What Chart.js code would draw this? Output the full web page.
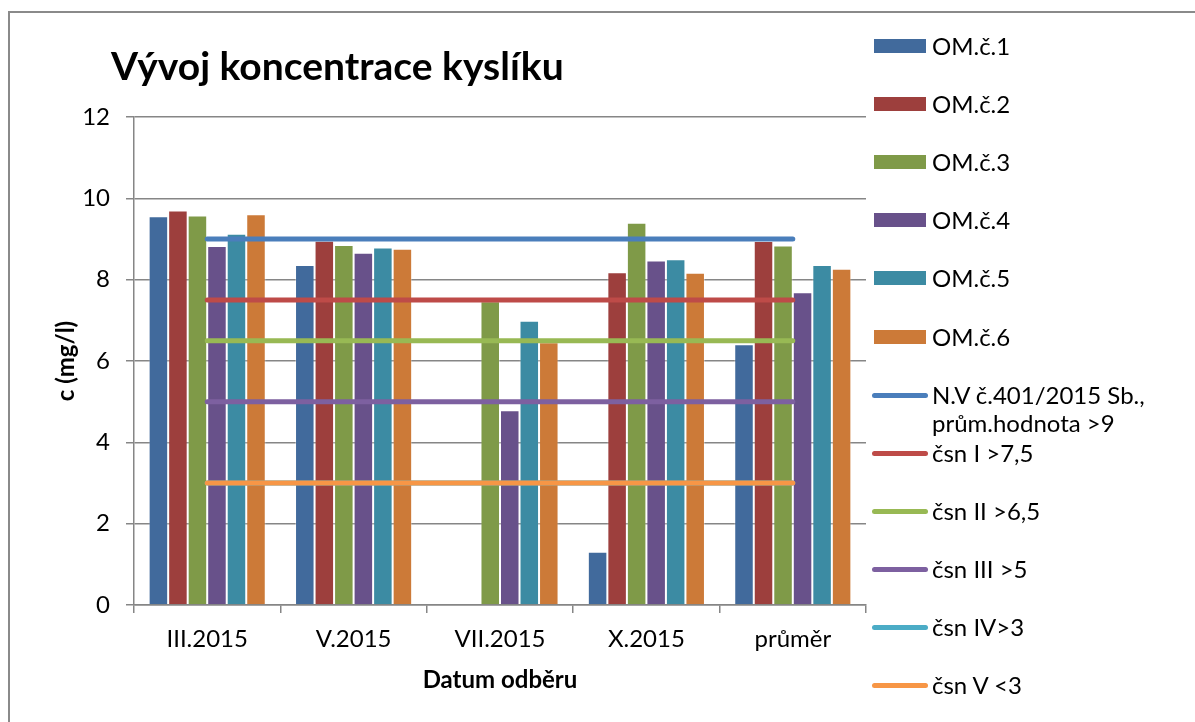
<!DOCTYPE html>
<html>
<head>
<meta charset="utf-8">
<script src="https://cdn.jsdelivr.net/npm/chart.js@4.4.0/dist/chart.umd.min.js"></script>
<style>
html,body{margin:0;padding:0;background:#fff;}
#wrap{position:relative;width:1195px;height:722px;overflow:hidden;background:#fff;}
#c{position:absolute;left:0;top:0;}
#frame{position:absolute;left:8px;top:11px;width:1300px;height:900px;border-left:2px solid #8a8a8a;border-top:2px solid #8a8a8a;pointer-events:none;}
#legend{position:absolute;left:0;top:0;width:1195px;height:722px;font-family:Lato,"Noto Sans",sans-serif;font-size:24px;color:#000;pointer-events:none;}
.li{position:absolute;left:870px;width:320px;height:28px;}
.sw{position:absolute;}
.tx{position:absolute;left:62px;top:0;line-height:28px;width:262px;white-space:normal;}
</style>
</head>
<body>
<div id="wrap">
<canvas id="c" width="1195" height="722"></canvas>
<div id="legend"></div>
<div id="frame"></div>
</div>
<script>
// ---- data ----
const categories = ['III.2015', 'V.2015', 'VII.2015', 'X.2015', 'průměr'];
const om1 = [9.56, 8.36, null, 1.31, 6.41];
const om2 = [9.70, 8.96, null, 8.18, 8.95];
const om3 = [9.58, 8.85, 7.47, 9.40, 8.84];
const om4 = [8.83, 8.66, 4.79, 8.47, 7.69];
const om5 = [9.13, 8.79, 6.99, 8.50, 8.36];
const om6 = [9.61, 8.76, 6.46, 8.17, 8.27];
const limitNV = [9, 9, 9, 9, 9];
const limitI = [7.5, 7.5, 7.5, 7.5, 7.5];
const limitII = [6.5, 6.5, 6.5, 6.5, 6.5];
const limitIII = [5, 5, 5, 5, 5];
const limitIV = [3, 3, 3, 3, 3];
const limitV = [3, 3, 3, 3, 3];
const barLabels = ['OM.č.1', 'OM.č.2', 'OM.č.3', 'OM.č.4', 'OM.č.5', 'OM.č.6'];
const lineLabels = ['N.V č.401/2015 Sb., prům.hodnota >9', 'čsn I >7,5', 'čsn II >6,5', 'čsn III >5', 'čsn IV>3', 'čsn V <3'];
const yTicks = [0, 2, 4, 6, 8, 10, 12];
const chartTitle = 'Vývoj koncentrace kyslíku';
const yTitle = 'c (mg/l)';
const xTitle = 'Datum odběru';

// ---- styles ----
const barColors = ['#416A9C', '#9D3F3D', '#7F9A48', '#68518A', '#3C8BA3', '#CC7A38'];
const lineColors = ['#4A7EBB', '#BE4B48', '#98B954', '#7D60A0', '#4BACC6', '#F79646'];
const FONT = 'Lato, "Noto Sans", sans-serif';

const barSeries = [om1, om2, om3, om4, om5, om6];
const lineSeries = [limitNV, limitI, limitII, limitIII, limitIV, limitV];

const datasets = [];
barSeries.forEach((d, i) => datasets.push({
  type: 'bar', label: barLabels[i], data: d,
  backgroundColor: barColors[i], borderColor: 'rgba(255,255,255,0.35)', borderWidth: 1,
  categoryPercentage: 0.8, barPercentage: 1.0, order: 3
}));
lineSeries.forEach((d, i) => datasets.push({
  type: 'line', label: lineLabels[i], data: d,
  borderColor: lineColors[i], backgroundColor: lineColors[i], borderWidth: 5,
  borderCapStyle: 'round', pointRadius: 0, pointHoverRadius: 0, fill: false,
  order: i === 5 ? 1 : 2
}));

const titlePlugin = {
  id: 'fixedTitle',
  afterDraw(chart) {
    const ctx = chart.ctx;
    ctx.save();
    ctx.font = 'bold 39px ' + FONT;
    ctx.fillStyle = '#000';
    ctx.textBaseline = 'alphabetic';
    ctx.textAlign = 'left';
    ctx.fillText(chartTitle, 111, 80);
    ctx.restore();
  }
};

const chart = new Chart(document.getElementById('c'), {
  data: { labels: categories, datasets: datasets },
  plugins: [titlePlugin],
  options: {
    responsive: false,
    animation: false,
    devicePixelRatio: 1,
    layout: { padding: { left: 8, top: 117, right: 329, bottom: 0 } },
    plugins: { legend: { display: false }, tooltip: { enabled: false }, title: { display: false } },
    scales: {
      x: {
        offset: true,
        grid: { offset: true, drawOnChartArea: false, tickLength: 8, color: '#868686', lineWidth: 1.5 },
        border: { color: '#868686', width: 1.5 },
        ticks: { color: '#000', font: { family: FONT, size: 24 }, padding: 12, maxRotation: 0 },
        title: { display: true, text: xTitle, color: '#000', font: { family: FONT, size: 24, weight: 'bold' }, padding: { top: 0, bottom: 27 } },
        afterFit(s) { s.height = 722 - 605; }
      },
      y: {
        min: 0, max: 12,
        afterBuildTicks(s) { s.ticks = yTicks.map(v => ({ value: v })); },
        grid: { color: '#868686', tickLength: 8, lineWidth: 1.5 },
        border: { color: '#868686', width: 1.5 },
        ticks: { color: '#000', font: { family: FONT, size: 24 }, padding: 16 },
        title: { display: true, text: yTitle, color: '#000', font: { family: FONT, size: 24, weight: 'bold' }, padding: { top: 44, bottom: 0 } },
        afterFit(s) { s.width = 134 - 8; }
      }
    }
  }
});

// ---- legend (HTML, built from the chart's datasets) ----
const legend = document.getElementById('legend');
chart.data.datasets.forEach((ds, i) => {
  const item = document.createElement('div');
  item.className = 'li';
  item.style.top = (46 + i * 58.1 - 14) + 'px';
  const sw = document.createElement('div');
  sw.className = 'sw';
  if (ds.type === 'bar') {
    sw.style.left = '4px'; sw.style.top = '7px'; sw.style.width = '52px'; sw.style.height = '14px';
    sw.style.background = ds.backgroundColor;
  } else {
    sw.style.left = '2px'; sw.style.top = '12px'; sw.style.width = '56px'; sw.style.height = '5px';
    sw.style.borderRadius = '3px'; sw.style.background = ds.borderColor;
  }
  const tx = document.createElement('div');
  tx.className = 'tx';
  tx.textContent = ds.label;
  item.appendChild(sw); item.appendChild(tx);
  legend.appendChild(item);
});
</script>
</body>
</html>
